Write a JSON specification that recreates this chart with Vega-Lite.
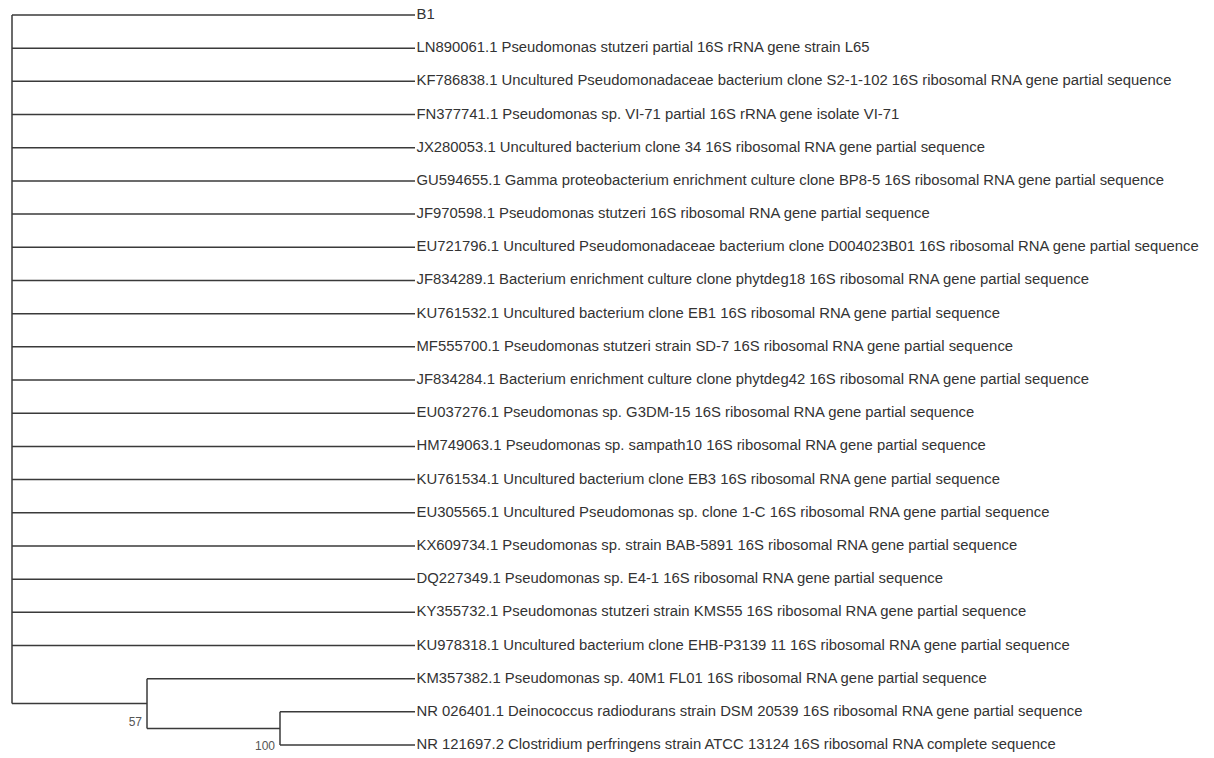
{
  "$schema": "https://vega.github.io/schema/vega-lite/v6.json",
  "width": 1214,
  "height": 758,
  "autosize": {"type": "fit", "contains": "padding"},
  "padding": 0,
  "background": "white",
  "config": {"view": {"stroke": null}},
  "datasets": {
    "branches": [
      {"x": 0, "x2": 1, "y": 0, "y2": 0},
      {"x": 0, "x2": 1, "y": 1, "y2": 1},
      {"x": 0, "x2": 1, "y": 2, "y2": 2},
      {"x": 0, "x2": 1, "y": 3, "y2": 3},
      {"x": 0, "x2": 1, "y": 4, "y2": 4},
      {"x": 0, "x2": 1, "y": 5, "y2": 5},
      {"x": 0, "x2": 1, "y": 6, "y2": 6},
      {"x": 0, "x2": 1, "y": 7, "y2": 7},
      {"x": 0, "x2": 1, "y": 8, "y2": 8},
      {"x": 0, "x2": 1, "y": 9, "y2": 9},
      {"x": 0, "x2": 1, "y": 10, "y2": 10},
      {"x": 0, "x2": 1, "y": 11, "y2": 11},
      {"x": 0, "x2": 1, "y": 12, "y2": 12},
      {"x": 0, "x2": 1, "y": 13, "y2": 13},
      {"x": 0, "x2": 1, "y": 14, "y2": 14},
      {"x": 0, "x2": 1, "y": 15, "y2": 15},
      {"x": 0, "x2": 1, "y": 16, "y2": 16},
      {"x": 0, "x2": 1, "y": 17, "y2": 17},
      {"x": 0, "x2": 1, "y": 18, "y2": 18},
      {"x": 0, "x2": 1, "y": 19, "y2": 19},
      {"x": 0.335, "x2": 1, "y": 20, "y2": 20},
      {"x": 0.665, "x2": 1, "y": 21, "y2": 21},
      {"x": 0.665, "x2": 1, "y": 22, "y2": 22},
      {"x": 0, "x2": 0, "y": 0, "y2": 20.75},
      {"x": 0, "x2": 0.335, "y": 20.75, "y2": 20.75},
      {"x": 0.335, "x2": 0.335, "y": 20, "y2": 21.5},
      {"x": 0.335, "x2": 0.665, "y": 21.5, "y2": 21.5},
      {"x": 0.665, "x2": 0.665, "y": 21, "y2": 22}
    ],
    "leaves": [
      {"y": 0, "label": "B1"},
      {"y": 1, "label": "LN890061.1 Pseudomonas stutzeri partial 16S rRNA gene strain L65"},
      {"y": 2, "label": "KF786838.1 Uncultured Pseudomonadaceae bacterium clone S2-1-102 16S ribosomal RNA gene partial sequence"},
      {"y": 3, "label": "FN377741.1 Pseudomonas sp. VI-71 partial 16S rRNA gene isolate VI-71"},
      {"y": 4, "label": "JX280053.1 Uncultured bacterium clone 34 16S ribosomal RNA gene partial sequence"},
      {"y": 5, "label": "GU594655.1 Gamma proteobacterium enrichment culture clone BP8-5 16S ribosomal RNA gene partial sequence"},
      {"y": 6, "label": "JF970598.1 Pseudomonas stutzeri 16S ribosomal RNA gene partial sequence"},
      {"y": 7, "label": "EU721796.1 Uncultured Pseudomonadaceae bacterium clone D004023B01 16S ribosomal RNA gene partial sequence"},
      {"y": 8, "label": "JF834289.1 Bacterium enrichment culture clone phytdeg18 16S ribosomal RNA gene partial sequence"},
      {"y": 9, "label": "KU761532.1 Uncultured bacterium clone EB1 16S ribosomal RNA gene partial sequence"},
      {"y": 10, "label": "MF555700.1 Pseudomonas stutzeri strain SD-7 16S ribosomal RNA gene partial sequence"},
      {"y": 11, "label": "JF834284.1 Bacterium enrichment culture clone phytdeg42 16S ribosomal RNA gene partial sequence"},
      {"y": 12, "label": "EU037276.1 Pseudomonas sp. G3DM-15 16S ribosomal RNA gene partial sequence"},
      {"y": 13, "label": "HM749063.1 Pseudomonas sp. sampath10 16S ribosomal RNA gene partial sequence"},
      {"y": 14, "label": "KU761534.1 Uncultured bacterium clone EB3 16S ribosomal RNA gene partial sequence"},
      {"y": 15, "label": "EU305565.1 Uncultured Pseudomonas sp. clone 1-C 16S ribosomal RNA gene partial sequence"},
      {"y": 16, "label": "KX609734.1 Pseudomonas sp. strain BAB-5891 16S ribosomal RNA gene partial sequence"},
      {"y": 17, "label": "DQ227349.1 Pseudomonas sp. E4-1 16S ribosomal RNA gene partial sequence"},
      {"y": 18, "label": "KY355732.1 Pseudomonas stutzeri strain KMS55 16S ribosomal RNA gene partial sequence"},
      {"y": 19, "label": "KU978318.1 Uncultured bacterium clone EHB-P3139 11 16S ribosomal RNA gene partial sequence"},
      {"y": 20, "label": "KM357382.1 Pseudomonas sp. 40M1 FL01 16S ribosomal RNA gene partial sequence"},
      {"y": 21, "label": "NR 026401.1 Deinococcus radiodurans strain DSM 20539 16S ribosomal RNA gene partial sequence"},
      {"y": 22, "label": "NR 121697.2 Clostridium perfringens strain ATCC 13124 16S ribosomal RNA complete sequence"}
    ],
    "support": [
      {"x": 0.335, "y": 20.75, "value": "57"},
      {"x": 0.665, "y": 21.5, "value": "100"}
    ]
  },
  "layer": [
    {
      "data": {"name": "branches"},
      "mark": {"type": "rule", "color": "#3a3a3a", "strokeWidth": 1.5},
      "encoding": {
        "x": {"field": "x", "type": "quantitative", "scale": {"domain": [-0.02978, 2.9826], "nice": false, "zero": false}, "axis": null},
        "x2": {"field": "x2"},
        "y": {"field": "y", "type": "quantitative", "scale": {"domain": [-0.452, 22.39], "nice": false, "zero": false, "reverse": true}, "axis": null},
        "y2": {"field": "y2"}
      }
    },
    {
      "data": {"name": "leaves"},
      "mark": {"type": "text", "align": "left", "baseline": "middle", "dx": 1.5, "font": "Liberation Sans", "fontSize": 14.85, "color": "#333333"},
      "encoding": {
        "x": {"datum": 1, "type": "quantitative"},
        "y": {"field": "y", "type": "quantitative"},
        "text": {"field": "label"}
      }
    },
    {
      "data": {"name": "support"},
      "mark": {"type": "text", "align": "right", "baseline": "middle", "dx": -5, "dy": 18, "font": "Liberation Sans", "fontSize": 12, "color": "#555555"},
      "encoding": {
        "x": {"field": "x", "type": "quantitative"},
        "y": {"field": "y", "type": "quantitative"},
        "text": {"field": "value"}
      }
    }
  ]
}
